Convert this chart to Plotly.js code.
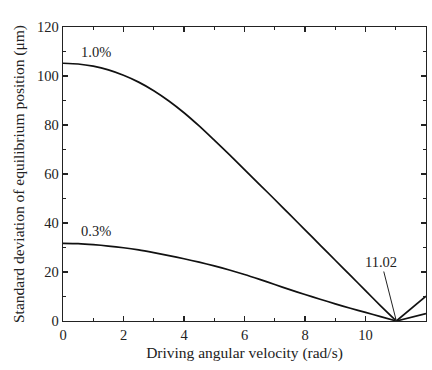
<!DOCTYPE html>
<html>
<head>
<meta charset="utf-8">
<script src="https://cdn.plot.ly/plotly-3.0.1.min.js"></script>
<style>html,body{margin:0;padding:0;background:#fff}#chart{width:432px;height:370px}</style>
</head>
<body>
<div id="chart"></div>
<script>
var omega = [0, 0.5, 1, 1.5, 2, 2.5, 3, 3.5, 4, 4.5, 5, 5.5, 6, 6.5, 7, 7.5, 8, 8.5, 9, 9.5, 10, 10.5, 11.02, 12];
var sd10 = [105.2, 104.9, 104.0, 102.5, 100.3, 97.5, 94.0, 89.8, 85.0, 79.6, 73.8, 67.9, 61.8, 55.7, 49.6, 43.4, 37.2, 31.0, 24.8, 18.6, 12.4, 6.2, 0, 10.1];
var sd03 = [31.7, 31.6, 31.2, 30.6, 29.9, 29.0, 27.9, 26.7, 25.4, 24.0, 22.5, 20.8, 19.0, 17.0, 14.9, 12.8, 10.8, 8.9, 7.0, 5.2, 3.5, 1.8, 0, 3.0];
var curveLabels = ["1.0%", "0.3%"];
var resonance = 11.02;
var xTitle = "Driving angular velocity (rad/s)";
var yTitle = "Standard deviation of equilibrium position (μm)";

var font = "Liberation Serif, Times New Roman, serif";
function seg(arrX, arrY, lo, hi) {
  var xs = [], ys = [];
  for (var i = 0; i < arrX.length; i++) {
    if (arrX[i] >= lo && arrX[i] <= hi) { xs.push(arrX[i]); ys.push(arrY[i]); }
  }
  return {x: xs, y: ys, mode: "lines", line: {color: "#111", width: 1.7, shape: "spline", smoothing: 0.6}, hoverinfo: "skip"};
}
var traces = [
  seg(omega, sd10, 0, resonance), seg(omega, sd10, resonance, 12),
  seg(omega, sd03, 0, resonance), seg(omega, sd03, resonance, 12)
];
var axisCommon = {
  showline: true, linecolor: "#222", linewidth: 1.4, mirror: "ticks",
  ticks: "inside", ticklen: 5, tickwidth: 1.2, tickcolor: "#222",
  showgrid: false, zeroline: false,
  tickfont: {family: font, size: 14.5, color: "#222"}
};
var layout = {
  width: 432, height: 370,
  margin: {l: 63, r: 6, t: 27, b: 49},
  paper_bgcolor: "#fff", plot_bgcolor: "#fff",
  showlegend: false,
  font: {family: font, color: "#222"},
  xaxis: Object.assign({}, axisCommon, {
    range: [0, 12], dtick: 2, tick0: 0,
    minor: {dtick: 1, ticklen: 3, tickwidth: 1, tickcolor: "#222", ticks: "inside"},
    title: {text: xTitle, font: {family: font, size: 15.5, color: "#222"}, standoff: 5}
  }),
  yaxis: Object.assign({}, axisCommon, {
    range: [0, 120], dtick: 20, tick0: 0,
    minor: {dtick: 10, ticklen: 3, tickwidth: 1, tickcolor: "#222", ticks: "inside"},
    title: {text: yTitle, font: {family: font, size: 15.5, color: "#222"}, standoff: 8}
  }),
  annotations: [
    {x: 1.1, y: 105.2, xref: "x", yref: "y", text: curveLabels[0], showarrow: false, yshift: 11, font: {family: font, size: 14.5, color: "#222"}},
    {x: 1.1, y: 31.7, xref: "x", yref: "y", text: curveLabels[1], showarrow: false, yshift: 12, font: {family: font, size: 14.5, color: "#222"}},
    {x: resonance, y: 0, xref: "x", yref: "y", text: String(resonance), showarrow: true, arrowhead: 0, arrowwidth: 1, arrowcolor: "#222", ax: -15, ay: -59, font: {family: font, size: 14.5, color: "#222"}}
  ]
};
Plotly.newPlot("chart", traces, layout, {staticPlot: true, displayModeBar: false});
</script>
</body>
</html>
